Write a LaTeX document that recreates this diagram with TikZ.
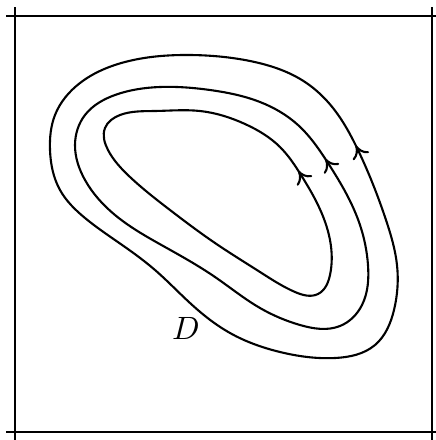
\documentclass[tikz,border=0pt]{standalone}
\usetikzlibrary{decorations.markings,arrows.meta,hobby}
\tikzset{
  curve/.style={line width=0.65pt, line join=round,
    postaction={decorate},
    decoration={markings, mark=at position 1.5pt with {\arrow{To[length=3.8pt,width=5.6pt]}}}},
  frameline/.style={line width=0.7pt}
}
\begin{document}
\begin{tikzpicture}[x=0.31pt,y=-0.31pt]
\useasboundingbox (0,0) rectangle (436,440);
% frame
\draw[frameline] (15,7) -- (15,445);
\draw[frameline] (432,7) -- (432,445);
\draw[frameline] (6,16) -- (441,16);
\draw[frameline] (6,432) -- (441,432);
% outer curve
\draw[curve, use Hobby shortcut, closed=true]
 (358,150) .. (333,108) .. (305,82) .. (250,61) .. (190,55) .. (125,62) .. (80,83)
 .. (55,115) .. (50,150) .. (60,190) .. (85,218) .. (125,247) .. (155,270)
 .. (190,303) .. (230,333) .. (280,352) .. (335,358) .. (375,345) .. (394,310)
 .. (397,265) .. (386,220);
% middle curve
\draw[curve, use Hobby shortcut, closed=true]
 (328,163) .. (298,125) .. (260,102) .. (210,90) .. (160,87) .. (115,95) .. (85,115)
 .. (75,145) .. (85,180) .. (115,215) .. (165,247) .. (215,277) .. (260,308)
 .. (300,325) .. (340,326) .. (362,305) .. (368,265) .. (360,225);
% inner curve
\draw[curve, use Hobby shortcut, closed=true]
 (301,175) .. (280,147) .. (245,124) .. (200,111) .. (155,111) .. (120,115)
 .. (105,128) .. (108,150) .. (130,177) .. (170,210) .. (215,243) .. (260,272)
 .. (295,292) .. (318,294) .. (330,275) .. (330,240) .. (318,205);
\node (D) at (186,328) {$D$};
\end{tikzpicture}
\end{document}
